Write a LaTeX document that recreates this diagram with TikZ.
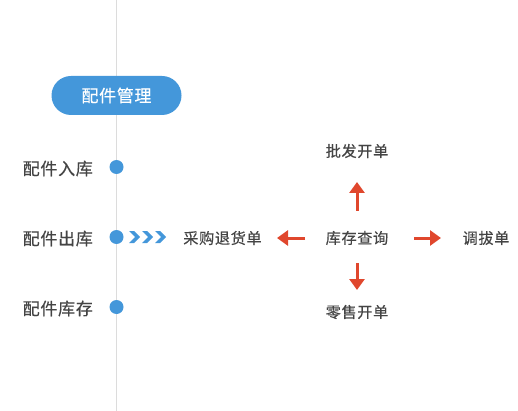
\documentclass[tikz,border=0pt]{standalone}
\usepackage{fontspec}
\usetikzlibrary{arrows.meta}
\newfontfamily\cjk[LetterSpace=4,FakeBold=0.35]{Noto Sans CJK SC}
\definecolor{partblue}{HTML}{4497DA}
\definecolor{flowred}{HTML}{E0472D}
\definecolor{labelgray}{HTML}{444444}
\definecolor{axisgray}{HTML}{DCDCDC}
\newcommand{\axisX}{116.5}
\newcommand{\rowA}{167}
\newcommand{\rowB}{237}
\newcommand{\rowC}{307}

\begin{document}
\begin{tikzpicture}[x=1pt,y=-1pt,
    txt/.style={inner sep=0pt, text=labelgray, font=\cjk\fontsize{15.2}{15.2}\selectfont},
    lbl/.style={inner sep=0pt, text=labelgray, font=\cjk\fontsize{17}{17}\selectfont},
    dot/.style={circle, fill=partblue, minimum size=14pt, inner sep=0pt},
    flow/.style={draw=flowred, line width=3pt, -{Triangle[width=15pt,length=11pt]}}]

        % Fix the margins
        \useasboundingbox (0,0) rectangle (518,411);

        % Draw the timeline
        \coordinate (top) at (\axisX,0);
        \coordinate (bottom) at (\axisX,411);
        \draw[axisgray, line width=1pt] (top) -- (bottom);

        % Title pill
        \node[fill=partblue, rounded corners=19.5pt, minimum width=130pt, minimum height=39pt,
              text=white, font=\cjk\fontsize{17}{17}\selectfont] (title) at (\axisX,95.5) {配件管理};

        % Dots and their labels
        \node[dot] (inDot) at (\axisX,\rowA) {};
        \node[dot] (outDot) at (\axisX,\rowB) {};
        \node[dot] (stockDot) at (\axisX,\rowC) {};
        \node[lbl, anchor=east] (inLbl) at (93,168.5) {配件入库};
        \node[lbl, anchor=east] (outLbl) at (93,238.5) {配件出库};
        \node[lbl, anchor=east] (stockLbl) at (93,308.5) {配件库存};

        % Chevrons after the out dot
        \foreach \i in {0,1,2}
            \fill[partblue] ({129+13*\i},231) -- ({134+13*\i},231) -- ({140+13*\i},237)
                -- ({134+13*\i},243) -- ({129+13*\i},243) -- ({135+13*\i},237) -- cycle;

        % Flow nodes
        \node[txt] (query) at (357,238) {库存查询};
        \node[txt] (retn) at (222.5,238) {采购退货单};
        \node[txt] (transfer) at (486,238) {调拔单};
        \node[txt] (wholesale) at (357,151) {批发开单};
        \node[txt] (retail) at (357,312) {零售开单};

        % Red arrows
        \draw[flow, shorten <=52pt, shorten >=54.5pt] (query.center) -- (retn.center);
        \draw[flow, shorten <=57pt, shorten >=45pt] (query.center) -- (transfer.center);
        \draw[flow, shorten <=27pt, shorten >=31pt] (query.center) -- (wholesale.center);
        \draw[flow, shorten <=25pt, shorten >=22pt] (query.center) -- (retail.center);
    \end{tikzpicture}
\end{document}
